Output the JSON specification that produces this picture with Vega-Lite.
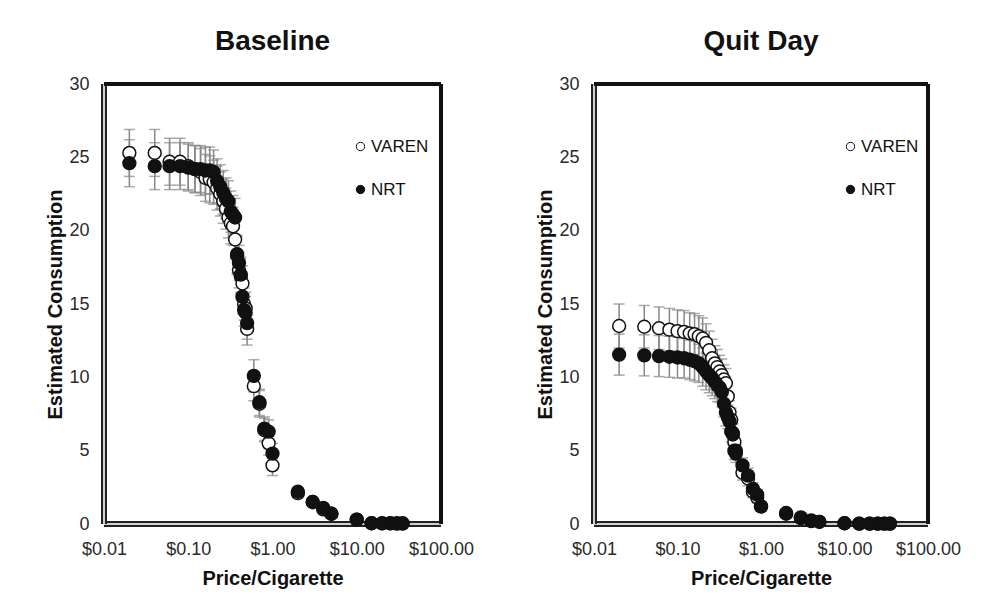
{
  "$schema": "https://vega.github.io/schema/vega-lite/v6.json",
  "background": "white",
  "padding": {"left": 45, "top": 28, "right": 5, "bottom": 5},
  "config": {
    "font": "Liberation Sans",
    "view": {"stroke": null},
    "axis": {"grid": false, "ticks": false, "domain": false, "labelFont": "Liberation Sans", "labelFontSize": 18, "labelColor": "#2a2a2a", "titleFont": "Liberation Sans", "titleFontSize": 20, "titleFontWeight": "bold", "titleColor": "#111", "labelFlush": false, "labelOverlap": false, "labelBound": false},
    "axisX": {"labelPadding": 16, "titlePadding": 10},
    "axisY": {"labelPadding": 15, "titlePadding": 3},
    "title": {"font": "Liberation Sans", "fontSize": 28, "fontWeight": "bold", "color": "#111", "offset": 19},
    "concat": {"spacing": 61}
  },
  "datasets": {
    "baseline": [
      {"p":0.02,"g":"VAREN","y":25.3,"lo":23.7,"hi":26.9},
      {"p":0.04,"g":"VAREN","y":25.3,"lo":23.7,"hi":26.9},
      {"p":0.06,"g":"VAREN","y":24.7,"lo":23.1,"hi":26.3},
      {"p":0.08,"g":"VAREN","y":24.7,"lo":23.1,"hi":26.3},
      {"p":0.10,"g":"VAREN","y":24.4,"lo":22.8,"hi":26.0},
      {"p":0.12,"g":"VAREN","y":24.2,"lo":22.6,"hi":25.8},
      {"p":0.14,"g":"VAREN","y":24.0,"lo":22.4,"hi":25.6},
      {"p":0.16,"g":"VAREN","y":23.6,"lo":22.0,"hi":25.2},
      {"p":0.18,"g":"VAREN","y":23.5,"lo":21.9,"hi":25.1},
      {"p":0.20,"g":"VAREN","y":23.3,"lo":21.8,"hi":24.8},
      {"p":0.22,"g":"VAREN","y":22.9,"lo":21.4,"hi":24.4},
      {"p":0.24,"g":"VAREN","y":22.5,"lo":21.0,"hi":24.0},
      {"p":0.26,"g":"VAREN","y":22.0,"lo":20.5,"hi":23.5},
      {"p":0.28,"g":"VAREN","y":21.5,"lo":20.1,"hi":22.9},
      {"p":0.30,"g":"VAREN","y":20.9,"lo":19.5,"hi":22.3},
      {"p":0.32,"g":"VAREN","y":20.5,"lo":19.1,"hi":21.9},
      {"p":0.34,"g":"VAREN","y":20.3,"lo":19.0,"hi":21.6},
      {"p":0.36,"g":"VAREN","y":19.4,"lo":18.1,"hi":20.7},
      {"p":0.38,"g":"VAREN","y":18.3,"lo":17.0,"hi":19.6},
      {"p":0.40,"g":"VAREN","y":17.3,"lo":16.1,"hi":18.5},
      {"p":0.42,"g":"VAREN","y":16.9,"lo":15.7,"hi":18.1},
      {"p":0.44,"g":"VAREN","y":16.4,"lo":15.2,"hi":17.6},
      {"p":0.46,"g":"VAREN","y":15.0,"lo":13.9,"hi":16.1},
      {"p":0.48,"g":"VAREN","y":14.7,"lo":13.6,"hi":15.8},
      {"p":0.50,"g":"VAREN","y":13.3,"lo":12.2,"hi":14.4},
      {"p":0.6,"g":"VAREN","y":9.4,"lo":8.4,"hi":10.4},
      {"p":0.7,"g":"VAREN","y":8.2,"lo":7.3,"hi":9.1},
      {"p":0.8,"g":"VAREN","y":6.4,"lo":5.6,"hi":7.2},
      {"p":0.9,"g":"VAREN","y":5.5,"lo":4.7,"hi":6.3},
      {"p":1,"g":"VAREN","y":4.0,"lo":3.3,"hi":4.7},
      {"p":2,"g":"VAREN","y":2.1,"lo":1.8,"hi":2.4},
      {"p":3,"g":"VAREN","y":1.5,"lo":1.25,"hi":1.75},
      {"p":4,"g":"VAREN","y":1.0,"lo":0.8,"hi":1.2},
      {"p":5,"g":"VAREN","y":0.7,"lo":0.55,"hi":0.85},
      {"p":10,"g":"VAREN","y":0.3,"lo":0.2,"hi":0.4},
      {"p":15,"g":"VAREN","y":0.05,"lo":0.02,"hi":0.08},
      {"p":20,"g":"VAREN","y":0.04,"lo":0.01,"hi":0.07},
      {"p":25,"g":"VAREN","y":0.04,"lo":0.01,"hi":0.07},
      {"p":30,"g":"VAREN","y":0.03,"lo":0.0,"hi":0.06},
      {"p":35,"g":"VAREN","y":0.03,"lo":0.0,"hi":0.06},
      {"p":0.02,"g":"NRT","y":24.6,"lo":23.0,"hi":26.2},
      {"p":0.04,"g":"NRT","y":24.4,"lo":22.8,"hi":26.0},
      {"p":0.06,"g":"NRT","y":24.4,"lo":22.8,"hi":26.0},
      {"p":0.08,"g":"NRT","y":24.4,"lo":22.8,"hi":26.0},
      {"p":0.10,"g":"NRT","y":24.3,"lo":22.7,"hi":25.9},
      {"p":0.12,"g":"NRT","y":24.2,"lo":22.6,"hi":25.8},
      {"p":0.14,"g":"NRT","y":24.2,"lo":22.6,"hi":25.8},
      {"p":0.16,"g":"NRT","y":24.1,"lo":22.5,"hi":25.7},
      {"p":0.18,"g":"NRT","y":24.1,"lo":22.5,"hi":25.7},
      {"p":0.20,"g":"NRT","y":24.0,"lo":22.5,"hi":25.5},
      {"p":0.22,"g":"NRT","y":23.4,"lo":21.9,"hi":24.9},
      {"p":0.24,"g":"NRT","y":23.0,"lo":21.5,"hi":24.5},
      {"p":0.26,"g":"NRT","y":22.6,"lo":21.1,"hi":24.1},
      {"p":0.28,"g":"NRT","y":22.2,"lo":20.8,"hi":23.6},
      {"p":0.30,"g":"NRT","y":22.0,"lo":20.6,"hi":23.4},
      {"p":0.32,"g":"NRT","y":21.3,"lo":19.9,"hi":22.7},
      {"p":0.34,"g":"NRT","y":21.1,"lo":19.8,"hi":22.4},
      {"p":0.36,"g":"NRT","y":20.9,"lo":19.6,"hi":22.2},
      {"p":0.38,"g":"NRT","y":18.4,"lo":17.1,"hi":19.7},
      {"p":0.40,"g":"NRT","y":17.8,"lo":16.6,"hi":19.0},
      {"p":0.42,"g":"NRT","y":17.0,"lo":15.8,"hi":18.2},
      {"p":0.44,"g":"NRT","y":15.5,"lo":14.3,"hi":16.7},
      {"p":0.46,"g":"NRT","y":14.6,"lo":13.5,"hi":15.7},
      {"p":0.48,"g":"NRT","y":14.4,"lo":13.3,"hi":15.5},
      {"p":0.50,"g":"NRT","y":13.7,"lo":12.6,"hi":14.8},
      {"p":0.6,"g":"NRT","y":10.1,"lo":9.0,"hi":11.2},
      {"p":0.7,"g":"NRT","y":8.3,"lo":7.4,"hi":9.2},
      {"p":0.8,"g":"NRT","y":6.5,"lo":5.7,"hi":7.3},
      {"p":0.9,"g":"NRT","y":6.3,"lo":5.5,"hi":7.1},
      {"p":1,"g":"NRT","y":4.8,"lo":4.1,"hi":5.5},
      {"p":2,"g":"NRT","y":2.2,"lo":1.9,"hi":2.5},
      {"p":3,"g":"NRT","y":1.5,"lo":1.25,"hi":1.75},
      {"p":4,"g":"NRT","y":1.1,"lo":0.9,"hi":1.3},
      {"p":5,"g":"NRT","y":0.7,"lo":0.55,"hi":0.85},
      {"p":10,"g":"NRT","y":0.3,"lo":0.2,"hi":0.4},
      {"p":15,"g":"NRT","y":0.05,"lo":0.02,"hi":0.08},
      {"p":20,"g":"NRT","y":0.05,"lo":0.02,"hi":0.08},
      {"p":25,"g":"NRT","y":0.05,"lo":0.02,"hi":0.08},
      {"p":30,"g":"NRT","y":0.05,"lo":0.02,"hi":0.08},
      {"p":35,"g":"NRT","y":0.05,"lo":0.02,"hi":0.08}
    ],
    "quit": [
      {"p":0.02,"g":"VAREN","y":13.5,"lo":12.0,"hi":15.0},
      {"p":0.04,"g":"VAREN","y":13.45,"lo":12.0,"hi":14.9},
      {"p":0.06,"g":"VAREN","y":13.35,"lo":11.9,"hi":14.8},
      {"p":0.08,"g":"VAREN","y":13.25,"lo":11.8,"hi":14.7},
      {"p":0.10,"g":"VAREN","y":13.15,"lo":11.7,"hi":14.6},
      {"p":0.12,"g":"VAREN","y":13.1,"lo":11.65,"hi":14.55},
      {"p":0.14,"g":"VAREN","y":13.0,"lo":11.6,"hi":14.4},
      {"p":0.16,"g":"VAREN","y":12.95,"lo":11.55,"hi":14.35},
      {"p":0.18,"g":"VAREN","y":12.8,"lo":11.4,"hi":14.2},
      {"p":0.20,"g":"VAREN","y":12.65,"lo":11.25,"hi":14.05},
      {"p":0.22,"g":"VAREN","y":12.35,"lo":11.05,"hi":13.65},
      {"p":0.24,"g":"VAREN","y":11.85,"lo":10.55,"hi":13.15},
      {"p":0.26,"g":"VAREN","y":11.3,"lo":10.0,"hi":12.6},
      {"p":0.28,"g":"VAREN","y":10.95,"lo":9.75,"hi":12.15},
      {"p":0.30,"g":"VAREN","y":10.7,"lo":9.5,"hi":11.9},
      {"p":0.32,"g":"VAREN","y":10.4,"lo":9.3,"hi":11.5},
      {"p":0.34,"g":"VAREN","y":10.15,"lo":9.05,"hi":11.25},
      {"p":0.36,"g":"VAREN","y":9.85,"lo":8.85,"hi":10.85},
      {"p":0.38,"g":"VAREN","y":9.6,"lo":8.6,"hi":10.6},
      {"p":0.40,"g":"VAREN","y":8.7,"lo":7.8,"hi":9.6},
      {"p":0.42,"g":"VAREN","y":7.6,"lo":6.8,"hi":8.4},
      {"p":0.44,"g":"VAREN","y":7.1,"lo":6.3,"hi":7.9},
      {"p":0.46,"g":"VAREN","y":6.2,"lo":5.5,"hi":6.9},
      {"p":0.48,"g":"VAREN","y":5.6,"lo":4.9,"hi":6.3},
      {"p":0.50,"g":"VAREN","y":5.0,"lo":4.4,"hi":5.6},
      {"p":0.6,"g":"VAREN","y":3.5,"lo":3.0,"hi":4.0},
      {"p":0.7,"g":"VAREN","y":3.1,"lo":2.6,"hi":3.6},
      {"p":0.8,"g":"VAREN","y":2.2,"lo":1.8,"hi":2.6},
      {"p":0.9,"g":"VAREN","y":1.8,"lo":1.45,"hi":2.15},
      {"p":1,"g":"VAREN","y":1.2,"lo":0.9,"hi":1.5},
      {"p":2,"g":"VAREN","y":0.75,"lo":0.55,"hi":0.95},
      {"p":3,"g":"VAREN","y":0.45,"lo":0.3,"hi":0.6},
      {"p":4,"g":"VAREN","y":0.25,"lo":0.15,"hi":0.35},
      {"p":5,"g":"VAREN","y":0.15,"lo":0.07,"hi":0.23},
      {"p":10,"g":"VAREN","y":0.05,"lo":0.02,"hi":0.08},
      {"p":15,"g":"VAREN","y":0.03,"lo":0.01,"hi":0.05},
      {"p":20,"g":"VAREN","y":0.03,"lo":0.01,"hi":0.05},
      {"p":25,"g":"VAREN","y":0.03,"lo":0.01,"hi":0.05},
      {"p":30,"g":"VAREN","y":0.03,"lo":0.01,"hi":0.05},
      {"p":35,"g":"VAREN","y":0.03,"lo":0.01,"hi":0.05},
      {"p":0.02,"g":"NRT","y":11.55,"lo":10.15,"hi":12.95},
      {"p":0.04,"g":"NRT","y":11.5,"lo":10.1,"hi":12.9},
      {"p":0.06,"g":"NRT","y":11.45,"lo":10.05,"hi":12.85},
      {"p":0.08,"g":"NRT","y":11.4,"lo":10.0,"hi":12.8},
      {"p":0.10,"g":"NRT","y":11.35,"lo":9.95,"hi":12.75},
      {"p":0.12,"g":"NRT","y":11.3,"lo":9.95,"hi":12.65},
      {"p":0.14,"g":"NRT","y":11.2,"lo":9.85,"hi":12.55},
      {"p":0.16,"g":"NRT","y":11.1,"lo":9.75,"hi":12.45},
      {"p":0.18,"g":"NRT","y":10.95,"lo":9.65,"hi":12.25},
      {"p":0.20,"g":"NRT","y":10.7,"lo":9.4,"hi":12.0},
      {"p":0.22,"g":"NRT","y":10.4,"lo":9.15,"hi":11.65},
      {"p":0.24,"g":"NRT","y":10.15,"lo":8.95,"hi":11.35},
      {"p":0.26,"g":"NRT","y":9.95,"lo":8.75,"hi":11.15},
      {"p":0.28,"g":"NRT","y":9.7,"lo":8.55,"hi":10.85},
      {"p":0.30,"g":"NRT","y":9.45,"lo":8.35,"hi":10.55},
      {"p":0.32,"g":"NRT","y":9.3,"lo":8.3,"hi":10.3},
      {"p":0.34,"g":"NRT","y":9.0,"lo":8.0,"hi":10.0},
      {"p":0.36,"g":"NRT","y":8.2,"lo":7.3,"hi":9.1},
      {"p":0.38,"g":"NRT","y":7.6,"lo":6.7,"hi":8.5},
      {"p":0.40,"g":"NRT","y":7.3,"lo":6.5,"hi":8.1},
      {"p":0.42,"g":"NRT","y":7.0,"lo":6.2,"hi":7.8},
      {"p":0.44,"g":"NRT","y":6.3,"lo":5.6,"hi":7.0},
      {"p":0.46,"g":"NRT","y":6.1,"lo":5.4,"hi":6.8},
      {"p":0.48,"g":"NRT","y":5.0,"lo":4.4,"hi":5.6},
      {"p":0.50,"g":"NRT","y":4.8,"lo":4.2,"hi":5.4},
      {"p":0.6,"g":"NRT","y":4.0,"lo":3.5,"hi":4.5},
      {"p":0.7,"g":"NRT","y":3.3,"lo":2.8,"hi":3.8},
      {"p":0.8,"g":"NRT","y":2.4,"lo":2.0,"hi":2.8},
      {"p":0.9,"g":"NRT","y":2.0,"lo":1.65,"hi":2.35},
      {"p":1,"g":"NRT","y":1.2,"lo":0.9,"hi":1.5},
      {"p":2,"g":"NRT","y":0.7,"lo":0.5,"hi":0.9},
      {"p":3,"g":"NRT","y":0.4,"lo":0.25,"hi":0.55},
      {"p":4,"g":"NRT","y":0.2,"lo":0.1,"hi":0.3},
      {"p":5,"g":"NRT","y":0.15,"lo":0.07,"hi":0.23},
      {"p":10,"g":"NRT","y":0.05,"lo":0.02,"hi":0.08},
      {"p":15,"g":"NRT","y":0.03,"lo":0.01,"hi":0.05},
      {"p":20,"g":"NRT","y":0.03,"lo":0.01,"hi":0.05},
      {"p":25,"g":"NRT","y":0.03,"lo":0.01,"hi":0.05},
      {"p":30,"g":"NRT","y":0.03,"lo":0.01,"hi":0.05},
      {"p":35,"g":"NRT","y":0.03,"lo":0.01,"hi":0.05}
    ]
  },
  "resolve": {"scale": {"fill": "independent"}, "legend": {"fill": "independent"}},
  "hconcat": [
    {
      "title": "Baseline",
      "width": 337,
      "height": 440,
      "data": {"name": "baseline"},
      "layer": [
        {"mark": {"type": "rule", "color": "#222", "strokeWidth": 5},
         "encoding": {"y": {"datum": 0, "type": "quantitative", "scale": {"domain": [0, 30]}, "title": "Estimated Consumption", "axis": {"values": [0,5,10,15,20,25,30]}}}},
        {"mark": {"type": "rule", "color": "#d0d0d0", "strokeWidth": 2},
         "encoding": {"y": {"datum": 0, "type": "quantitative", "title": "Estimated Consumption", "axis": {"values": [0,5,10,15,20,25,30]}}}},
        {"mark": {"type": "rule", "color": "#222", "strokeWidth": 5},
         "encoding": {"x": {"datum": 0.01, "type": "quantitative", "scale": {"type": "log", "domain": [0.01, 100]}, "title": "Price/Cigarette", "axis": {"values": [0.01,0.1,1,10,100], "format": "$.2f"}}}},
        {"mark": {"type": "rule", "color": "#d0d0d0", "strokeWidth": 2},
         "encoding": {"x": {"datum": 0.01, "type": "quantitative", "title": "Price/Cigarette", "axis": {"values": [0.01,0.1,1,10,100], "format": "$.2f"}}}},
        {"mark": {"type": "rule", "color": "#111", "strokeWidth": 4},
         "encoding": {"y": {"datum": 30, "type": "quantitative", "title": "Estimated Consumption", "axis": {"values": [0,5,10,15,20,25,30]}}}},
        {"mark": {"type": "rule", "color": "#111", "strokeWidth": 4},
         "encoding": {"x": {"datum": 100, "type": "quantitative", "title": "Price/Cigarette", "axis": {"values": [0.01,0.1,1,10,100], "format": "$.2f"}}}},
        {"mark": {"type": "rule", "color": "#888", "strokeWidth": 1.5},
         "encoding": {"x": {"field": "p", "type": "quantitative", "title": "Price/Cigarette", "axis": {"values": [0.01,0.1,1,10,100], "format": "$.2f"}}, "y": {"field": "lo", "type": "quantitative", "title": "Estimated Consumption", "axis": {"values": [0,5,10,15,20,25,30]}}, "y2": {"field": "hi"}}},
        {"mark": {"type": "tick", "orient": "horizontal", "color": "#888", "size": 11, "thickness": 1.5},
         "encoding": {"x": {"field": "p", "type": "quantitative", "title": "Price/Cigarette", "axis": {"values": [0.01,0.1,1,10,100], "format": "$.2f"}}, "y": {"field": "lo", "type": "quantitative", "title": "Estimated Consumption", "axis": {"values": [0,5,10,15,20,25,30]}}}},
        {"mark": {"type": "tick", "orient": "horizontal", "color": "#888", "size": 11, "thickness": 1.5},
         "encoding": {"x": {"field": "p", "type": "quantitative", "title": "Price/Cigarette", "axis": {"values": [0.01,0.1,1,10,100], "format": "$.2f"}}, "y": {"field": "hi", "type": "quantitative", "title": "Estimated Consumption", "axis": {"values": [0,5,10,15,20,25,30]}}}},
        {"mark": {"type": "point", "shape": "circle", "filled": true, "size": 165, "stroke": "#111", "strokeWidth": 1.5, "opacity": 1},
         "encoding": {
           "x": {"field": "p", "type": "quantitative", "title": "Price/Cigarette", "axis": {"values": [0.01,0.1,1,10,100], "format": "$.2f"}},
           "y": {"field": "y", "type": "quantitative", "title": "Estimated Consumption", "axis": {"values": [0,5,10,15,20,25,30]}},
           "fill": {"field": "g", "type": "nominal", "scale": {"domain": ["VAREN", "NRT"], "range": ["white", "#111"]},
             "legend": {"orient": "none", "legendX": 248, "legendY": 54, "title": null, "symbolType": "circle", "symbolSize": 70, "symbolStrokeColor": "#111", "symbolStrokeWidth": 1, "labelFont": "Liberation Sans", "labelFontSize": 17, "labelColor": "#111", "rowPadding": 25, "labelOffset": 2}}
         }}
      ]
    },
    {
      "title": "Quit Day",
      "width": 334,
      "height": 440,
      "data": {"name": "quit"},
      "layer": [
        {"mark": {"type": "rule", "color": "#222", "strokeWidth": 5},
         "encoding": {"y": {"datum": 0, "type": "quantitative", "scale": {"domain": [0, 30]}, "title": "Estimated Consumption", "axis": {"values": [0,5,10,15,20,25,30]}}}},
        {"mark": {"type": "rule", "color": "#d0d0d0", "strokeWidth": 2},
         "encoding": {"y": {"datum": 0, "type": "quantitative", "title": "Estimated Consumption", "axis": {"values": [0,5,10,15,20,25,30]}}}},
        {"mark": {"type": "rule", "color": "#222", "strokeWidth": 5},
         "encoding": {"x": {"datum": 0.01, "type": "quantitative", "scale": {"type": "log", "domain": [0.01, 100]}, "title": "Price/Cigarette", "axis": {"values": [0.01,0.1,1,10,100], "format": "$.2f"}}}},
        {"mark": {"type": "rule", "color": "#d0d0d0", "strokeWidth": 2},
         "encoding": {"x": {"datum": 0.01, "type": "quantitative", "title": "Price/Cigarette", "axis": {"values": [0.01,0.1,1,10,100], "format": "$.2f"}}}},
        {"mark": {"type": "rule", "color": "#111", "strokeWidth": 4},
         "encoding": {"y": {"datum": 30, "type": "quantitative", "title": "Estimated Consumption", "axis": {"values": [0,5,10,15,20,25,30]}}}},
        {"mark": {"type": "rule", "color": "#111", "strokeWidth": 4},
         "encoding": {"x": {"datum": 100, "type": "quantitative", "title": "Price/Cigarette", "axis": {"values": [0.01,0.1,1,10,100], "format": "$.2f"}}}},
        {"mark": {"type": "rule", "color": "#888", "strokeWidth": 1.5},
         "encoding": {"x": {"field": "p", "type": "quantitative", "title": "Price/Cigarette", "axis": {"values": [0.01,0.1,1,10,100], "format": "$.2f"}}, "y": {"field": "lo", "type": "quantitative", "title": "Estimated Consumption", "axis": {"values": [0,5,10,15,20,25,30]}}, "y2": {"field": "hi"}}},
        {"mark": {"type": "tick", "orient": "horizontal", "color": "#888", "size": 11, "thickness": 1.5},
         "encoding": {"x": {"field": "p", "type": "quantitative", "title": "Price/Cigarette", "axis": {"values": [0.01,0.1,1,10,100], "format": "$.2f"}}, "y": {"field": "lo", "type": "quantitative", "title": "Estimated Consumption", "axis": {"values": [0,5,10,15,20,25,30]}}}},
        {"mark": {"type": "tick", "orient": "horizontal", "color": "#888", "size": 11, "thickness": 1.5},
         "encoding": {"x": {"field": "p", "type": "quantitative", "title": "Price/Cigarette", "axis": {"values": [0.01,0.1,1,10,100], "format": "$.2f"}}, "y": {"field": "hi", "type": "quantitative", "title": "Estimated Consumption", "axis": {"values": [0,5,10,15,20,25,30]}}}},
        {"mark": {"type": "point", "shape": "circle", "filled": true, "size": 165, "stroke": "#111", "strokeWidth": 1.5, "opacity": 1},
         "encoding": {
           "x": {"field": "p", "type": "quantitative", "title": "Price/Cigarette", "axis": {"values": [0.01,0.1,1,10,100], "format": "$.2f"}},
           "y": {"field": "y", "type": "quantitative", "title": "Estimated Consumption", "axis": {"values": [0,5,10,15,20,25,30]}},
           "fill": {"field": "g", "type": "nominal", "scale": {"domain": ["VAREN", "NRT"], "range": ["white", "#111"]},
             "legend": {"orient": "none", "legendX": 248, "legendY": 54, "title": null, "symbolType": "circle", "symbolSize": 70, "symbolStrokeColor": "#111", "symbolStrokeWidth": 1, "labelFont": "Liberation Sans", "labelFontSize": 17, "labelColor": "#111", "rowPadding": 25, "labelOffset": 2}}
         }}
      ]
    }
  ]
}
